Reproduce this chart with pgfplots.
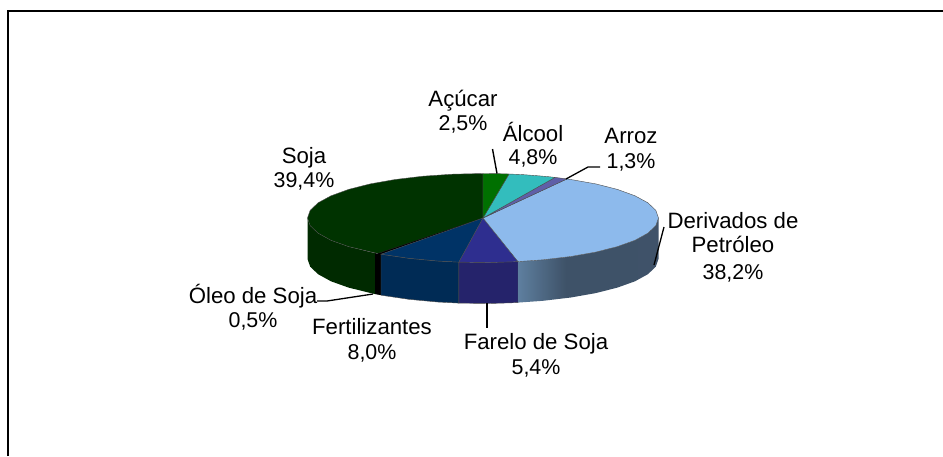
\documentclass[border=0pt]{standalone}
\usepackage{fontspec}
\setmainfont{Liberation Sans}
\usepackage{pgfplots}
\pgfplotsset{compat=1.18}
\definecolor{cSoja}{HTML}{003300}
\definecolor{cSojaS}{HTML}{002A00}
\definecolor{cAcu}{HTML}{007000}
\definecolor{cAlc}{HTML}{33BDBD}
\definecolor{cArr}{HTML}{5F5FA8}
\definecolor{cDer}{HTML}{8DBAEC}
\definecolor{cFar}{HTML}{2E2E8F}
\definecolor{cFarS}{HTML}{25236B}
\definecolor{cFer}{HTML}{003366}
\definecolor{cFerS}{HTML}{002B55}
\definecolor{dA}{HTML}{5E7F9F}
\definecolor{dB}{HTML}{3E5268}
\definecolor{dC}{HTML}{3F5269}
\pgfdeclarehorizontalshading{derside}{100bp}{
  color(0bp)=(dA);
  color(25bp)=(dA);
  color(42bp)=(dB);
  color(60bp)=(dB);
  color(75bp)=(dC);
  color(100bp)=(dC)}
\tikzset{lbl/.style={anchor=base, inner sep=0pt, font=\fontsize{22.2}{24}\selectfont},
         pct/.style={anchor=base, inner sep=0pt, font=\fontsize{21.4}{24}\selectfont}}
\begin{document}
\begin{tikzpicture}[x=1pt,y=1pt]
\path[use as bounding box] (0,0) rectangle (943pt,456pt);
\begin{axis}[
  at={(0pt,0pt)}, anchor=south west,
  scale only axis, width=943pt, height=456pt,
  xmin=0, xmax=943, ymin=0, ymax=456, y dir=reverse,
  hide axis, clip=true,
]
% frame
\addplot[black, line width=2pt, no marks] coordinates {(8,456) (8,11) (943,11)};

% side walls
\addplot[draw=none, fill=cSojaS, no marks] coordinates {
 (375,253.1) (348.6,246.6) (331.0,240.3) (318.1,233.2) (310.2,225.7) (307.5,218)
 (307.5,259) (310.2,266.7) (318.1,274.2) (331.0,281.3) (348.6,287.6) (375,294.1)} --cycle;
\addplot[draw=none, fill=black, no marks] coordinates {
 (381,254.2) (375,253.1) (375,294.1) (381,295.2)} --cycle;
\addplot[draw=black!70, line width=0.4pt, fill=cFerS, no marks] coordinates {
 (458.9,262.1) (437.6,261.0) (408.8,258.3) (381,254.2)
 (381,295.2) (408.8,299.3) (437.6,302.0) (458.9,303.1)} --cycle;
\addplot[draw=black!70, line width=0.4pt, fill=cFarS, no marks] coordinates {
 (518,261.6) (489.1,262.5) (458.9,262.1)
 (458.9,303.1) (489.1,303.5) (518,302.6)} --cycle;
\addplot[draw=none, shading=derside, no marks] coordinates {
 (658.5,218) (655.8,225.7) (647.9,233.2) (635.0,240.3) (617.4,246.6) (595.8,252.1) (570.8,256.5) (543.0,259.8) (518,261.6)
 (518,302.6) (543.0,300.8) (570.8,297.5) (595.8,293.1) (617.4,287.6) (635.0,281.3) (647.9,274.2) (655.8,266.7) (658.5,259)} --cycle;

% top faces
\addplot[draw=black!70, line width=0.4pt, fill=cSoja, no marks] coordinates {
 (483,218) (378,253.6) (348.6,246.6) (331.0,240.3) (318.1,233.2) (310.2,225.7) (307.5,218)
 (310.2,210.3) (318.1,202.8) (331.0,195.8) (348.6,189.4) (370.2,183.9) (395.2,179.5)
 (423.0,176.2) (452.5,174.2) (483,173.5)} --cycle;
\addplot[draw=black, line width=0.3pt, fill=black, no marks] coordinates {
 (483,218) (381,254.2) (378,253.6)} --cycle;
\addplot[draw=black!70, line width=0.4pt, fill=cFer, no marks] coordinates {
 (483,218) (458.9,262.1) (437.6,261.0) (408.8,258.3) (381,254.2)} --cycle;
\addplot[draw=black!70, line width=0.4pt, fill=cFar, no marks] coordinates {
 (483,218) (518,261.6) (489.1,262.5) (458.9,262.1)} --cycle;
\addplot[draw=black!70, line width=0.4pt, fill=cDer, no marks] coordinates {
 (483,218) (567,178.9) (570.8,179.5) (595.8,183.9) (617.4,189.4) (635.0,195.8) (647.9,202.8)
 (655.8,210.3) (658.5,218) (655.8,225.7) (647.9,233.2) (635.0,240.3) (617.4,246.6)
 (595.8,252.1) (570.8,256.5) (543.0,259.8) (518,261.6)} --cycle;
\addplot[draw=black!70, line width=0.4pt, fill=cArr, no marks] coordinates {
 (483,218) (555,177.4) (567,178.9)} --cycle;
\addplot[draw=black!70, line width=0.4pt, fill=cAlc, no marks] coordinates {
 (483,218) (509,174) (522.5,174.6) (537.2,175.7) (548.7,176.7) (555,177.4)} --cycle;
\addplot[draw=black!70, line width=0.4pt, fill=cAcu, no marks] coordinates {
 (483,218) (483,173.5) (496.8,173.6) (509,174)} --cycle;

% leader lines
\addplot[black, line width=1.4pt, no marks] coordinates {(492.5,149) (497,173.5)};
\addplot[black, line width=1.3pt, no marks] coordinates {(600,167) (588,167) (566,179)};
\addplot[black, line width=1.3pt, no marks] coordinates {(664,227) (654,265)};
\addplot[black, line width=1.3pt, no marks] coordinates {(317,301) (327,301) (373,294)};
\addplot[black, line width=2pt, no marks] coordinates {(487,303) (487,328)};

% labels
\node[lbl] at (axis cs:463,106) {Açúcar};
\node[pct] at (axis cs:463,130) {2,5\%};
\node[lbl] at (axis cs:304,163) {Soja};
\node[pct] at (axis cs:304,187) {39,4\%};
\node[lbl] at (axis cs:533,141) {Álcool};
\node[pct] at (axis cs:533,164) {4,8\%};
\node[lbl] at (axis cs:631,143) {Arroz};
\node[pct] at (axis cs:631,168) {1,3\%};
\node[lbl] at (axis cs:733,228) {Derivados de};
\node[lbl] at (axis cs:733,252) {Petróleo};
\node[pct] at (axis cs:733,279) {38,2\%};
\node[lbl] at (axis cs:253,303) {Óleo de Soja};
\node[pct] at (axis cs:253,327) {0,5\%};
\node[lbl] at (axis cs:372,334) {Fertilizantes};
\node[pct] at (axis cs:372,359) {8,0\%};
\node[lbl] at (axis cs:536,349) {Farelo de Soja};
\node[pct] at (axis cs:536,374) {5,4\%};
\end{axis}
\end{tikzpicture}
\end{document}
